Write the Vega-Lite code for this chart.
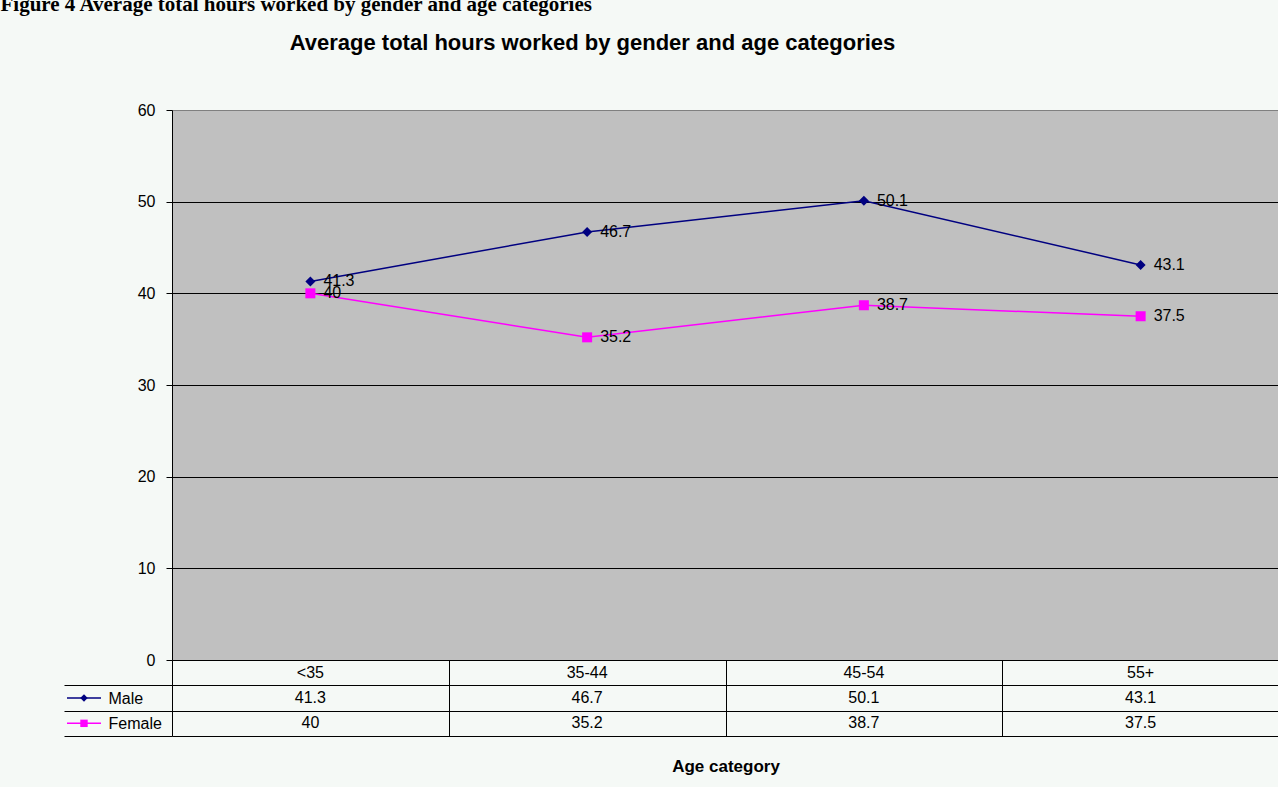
{
  "$schema": "https://vega.github.io/schema/vega-lite/v6.json",
  "background": "#F5F9F6",
  "padding": {"left": 0, "top": -6, "right": 0, "bottom": 14},
  "title": {
    "text": "Figure 4 Average total hours worked by gender and age categories",
    "anchor": "start", "frame": "bounds",
    "font": "Liberation Serif", "fontSize": 21, "fontWeight": "bold", "color": "#000",
    "baseline": "alphabetic", "offset": 0, "dx": -63
  },
  "datasets": {
    "hours": [
      {"age": "<35", "gender": "Male", "hours": 41.3},
      {"age": "35-44", "gender": "Male", "hours": 46.7},
      {"age": "45-54", "gender": "Male", "hours": 50.1},
      {"age": "55+", "gender": "Male", "hours": 43.1},
      {"age": "<35", "gender": "Female", "hours": 40},
      {"age": "35-44", "gender": "Female", "hours": 35.2},
      {"age": "45-54", "gender": "Female", "hours": 38.7},
      {"age": "55+", "gender": "Female", "hours": 37.5}
    ]
  },
  "spacing": 0,
  "bounds": "flush",
  "vconcat": [
    {
      "width": 1107,
      "height": 550,
      "title": {
        "text": "Average total hours worked by gender and age categories",
        "anchor": "middle", "frame": "group",
        "font": "Liberation Sans", "fontSize": 22, "fontWeight": "bold", "color": "#000",
        "baseline": "alphabetic", "offset": 30, "dx": -133
      },
      "view": {"fill": "#C0C0C0", "stroke": null},
      "data": {"name": "hours"},
      "encoding": {
        "x": {"field": "age", "type": "nominal", "sort": null,
              "scale": {"type": "point", "domain": ["<35", "35-44", "45-54", "55+"], "padding": 0.5},
              "axis": null},
        "y": {"field": "hours", "type": "quantitative",
              "scale": {"domain": [0, 60], "nice": false},
              "axis": {
                "values": [0, 10, 20, 30, 40, 50, 60], "title": null,
                "grid": true,
                "gridColor": {"condition": {"test": "datum.value === 60", "value": "#808080"}, "value": "#000000"},
                "gridOpacity": 1, "gridWidth": 1,
                "domain": true, "domainColor": "#000", "domainWidth": 1,
                "ticks": true, "tickColor": "#000", "tickSize": 6,
                "labelPadding": 11, "labelFontSize": 16, "labelColor": "#000", "labelFont": "Liberation Sans"
              }},
        "color": {"field": "gender", "type": "nominal",
                  "scale": {"domain": ["Male", "Female"], "range": ["#000080", "#FF00FF"]},
                  "legend": null}
      },
      "layer": [
        {"mark": {"type": "line", "strokeWidth": 1.5}},
        {"mark": {"type": "point", "filled": true, "opacity": 1, "size": 100},
         "encoding": {
           "shape": {"field": "gender", "type": "nominal",
                     "scale": {"domain": ["Male", "Female"], "range": ["diamond", "square"]},
                     "legend": null}
         }},
        {"mark": {"type": "text", "align": "left", "baseline": "middle", "dx": 13,
                  "fontSize": 16, "font": "Liberation Sans"},
         "encoding": {
           "text": {"field": "hours", "type": "nominal"},
           "color": {"value": "#000000"}
         }}
      ]
    },
    {
      "width": 1107,
      "height": 76,
      "view": {"stroke": null},
      "data": {"name": "hours"},
      "layer": [
        {
          "mark": {"type": "text", "fontSize": 16, "font": "Liberation Sans", "color": "#000", "baseline": "middle"},
          "encoding": {
            "x": {"field": "age", "type": "nominal", "sort": null,
                  "scale": {"type": "band", "domain": ["<35", "35-44", "45-54", "55+"], "paddingInner": 0, "paddingOuter": 0},
                  "axis": {
                    "orient": "bottom", "labels": false, "ticks": false, "domain": false,
                    "grid": true, "gridColor": "#000", "gridOpacity": 1, "gridWidth": 1,
                    "tickBand": "extent",
                    "title": "Age category", "titleFont": "Liberation Sans", "titleFontSize": 17,
                    "titleFontWeight": "bold", "titleColor": "#000", "titlePadding": 22
                  }},
            "y": {"field": "gender", "type": "nominal", "sort": null,
                  "scale": {"type": "band", "domain": ["hdr", "Male", "Female"], "paddingInner": 0, "paddingOuter": 0},
                  "axis": {
                    "orient": "left", "title": null, "domain": false,
                    "grid": true, "gridColor": "#000", "gridOpacity": 1, "gridWidth": 1,
                    "tickBand": "extent", "ticks": true, "tickColor": "#000", "tickSize": 108,
                    "tickOpacity": {"condition": {"test": "!datum.value", "value": 0}, "value": 1},
                    "labelExpr": "datum.value == 'hdr' ? '' : datum.value",
                    "labelAlign": "left", "labelBaseline": "middle", "labelPadding": -44,
                    "labelFontSize": 16, "labelColor": "#000", "labelFont": "Liberation Sans"
                  }},
            "text": {"field": "hours", "type": "nominal"}
          }
        },
        {
          "transform": [{"filter": "datum.gender === 'Male'"}],
          "mark": {"type": "text", "fontSize": 16, "font": "Liberation Sans", "color": "#000", "baseline": "middle"},
          "encoding": {
            "x": {"field": "age", "type": "nominal", "sort": null,
                  "scale": {"type": "band", "domain": ["<35", "35-44", "45-54", "55+"], "paddingInner": 0, "paddingOuter": 0}},
            "y": {"datum": "hdr", "type": "nominal",
                  "scale": {"type": "band", "domain": ["hdr", "Male", "Female"], "paddingInner": 0, "paddingOuter": 0}},
            "text": {"field": "age", "type": "nominal"}
          }
        },
        {
          "transform": [{"filter": "datum.age === '<35'"}],
          "mark": {"type": "point", "shape": "M-1,0L1,0", "filled": false, "strokeWidth": 1.5, "size": 1156, "opacity": 1},
          "encoding": {
            "x": {"datum": "<35", "type": "nominal", "bandPosition": -0.318,
                  "scale": {"type": "band", "domain": ["<35", "35-44", "45-54", "55+"], "paddingInner": 0, "paddingOuter": 0}},
            "y": {"field": "gender", "type": "nominal", "sort": null,
                  "scale": {"type": "band", "domain": ["hdr", "Male", "Female"], "paddingInner": 0, "paddingOuter": 0}},
            "color": {"field": "gender", "type": "nominal",
                      "scale": {"domain": ["Male", "Female"], "range": ["#000080", "#FF00FF"]}, "legend": null}
          }
        },
        {
          "transform": [{"filter": "datum.age === '<35'"}],
          "mark": {"type": "point", "filled": true, "size": 55, "opacity": 1},
          "encoding": {
            "x": {"datum": "<35", "type": "nominal", "bandPosition": -0.318,
                  "scale": {"type": "band", "domain": ["<35", "35-44", "45-54", "55+"], "paddingInner": 0, "paddingOuter": 0}},
            "y": {"field": "gender", "type": "nominal", "sort": null,
                  "scale": {"type": "band", "domain": ["hdr", "Male", "Female"], "paddingInner": 0, "paddingOuter": 0}},
            "color": {"field": "gender", "type": "nominal",
                      "scale": {"domain": ["Male", "Female"], "range": ["#000080", "#FF00FF"]}, "legend": null},
            "shape": {"field": "gender", "type": "nominal",
                      "scale": {"domain": ["Male", "Female"], "range": ["diamond", "square"]}, "legend": null}
          }
        }
      ]
    }
  ],
  "config": {
    "font": "Liberation Sans",
    "view": {"stroke": null},
    "axis": {"labelFont": "Liberation Sans", "titleFont": "Liberation Sans"}
  }
}
